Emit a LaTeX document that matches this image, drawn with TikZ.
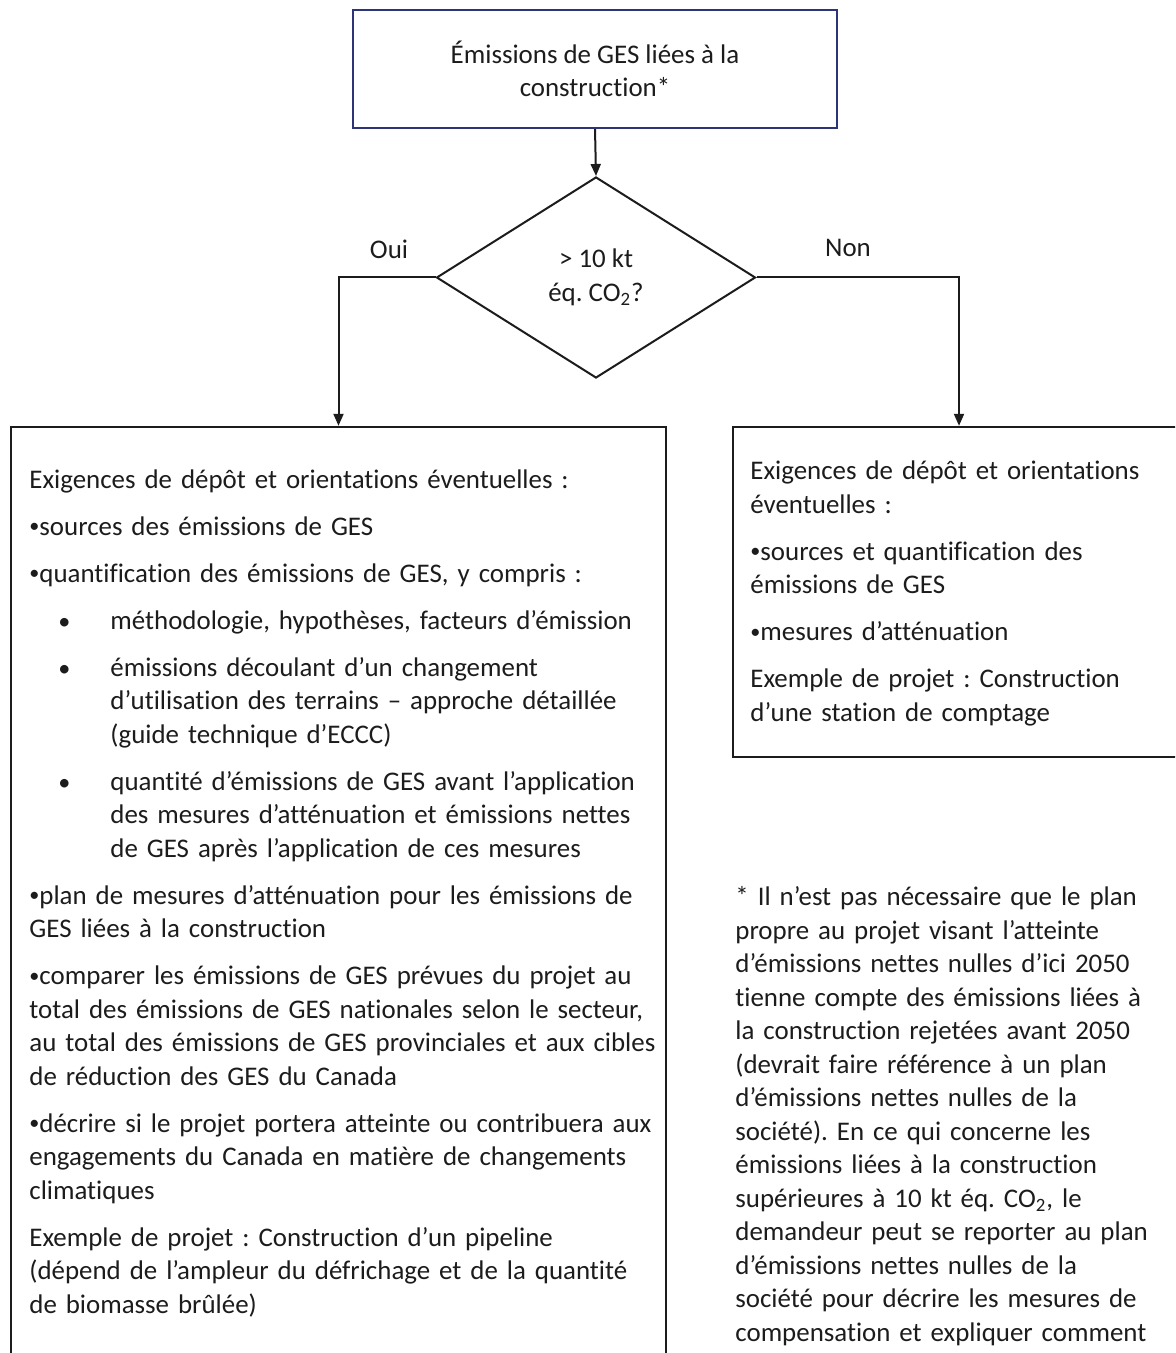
\documentclass[tikz,border=0pt]{standalone}
\usepackage{fontspec}
\setmainfont{Carlito}[Ligatures=NoCommon]
\usetikzlibrary{shapes.geometric,arrows.meta}
\definecolor{navy}{RGB}{45,52,120}
\definecolor{ink}{RGB}{28,28,28}
\newcommand\bul{\raisebox{0.1em}{\scalebox{0.75}{•}}}
\newcommand\sbul[1]{\hspace*{14.5pt}\makebox[26pt][l]{\scalebox{0.9}{•}}#1}
\newcommand\sind{\hspace*{40.5pt}}
\newcommand\fl{\rule{0pt}{12pt}}
\frenchspacing
\begin{document}
\begin{tikzpicture}[x=0.5pt,y=-0.5pt,
  font=\fontsize{13.45}{16.75}\selectfont\frenchspacing,
  box/.style={draw=ink,line width=1.2pt,inner sep=0pt,rectangle},
  txt/.style={inner sep=0pt,anchor=north west,align=left,text=ink},
  lbl/.style={inner sep=0pt,text=ink},
  conn/.style={draw=ink,line width=1pt,-{Triangle[length=6pt,width=5pt]}}]
\useasboundingbox (0,0) rectangle (1175,1353);
\clip (0,0) rectangle (1175,1353);
\fill[white] (0,0) rectangle (1175,1353);

\node[box,draw=navy,minimum width=242pt,minimum height=59pt,align=center,text=ink] (top) at (595,69) {Émissions de GES liées à la\\construction*};

\node[diamond,draw=ink,line width=1pt,minimum width=159.5pt,minimum height=100.5pt,inner sep=0pt,shape aspect=1.6,align=center,text=ink] (dec) at (596,277.5) {> 10 kt\\éq. CO\textsubscript{2}?};

\node[box,minimum width=327.5pt,minimum height=500pt] (lbox) at (338.5,927) {};
\node[box,minimum width=226pt,minimum height=165pt] (rbox) at (959,592) {};

\draw[conn] (top.south) -- (dec.north);
\draw[conn] (dec.west) -| (lbox.north);
\draw[conn] (dec.east) -| (rbox.north);

\node[lbl] (oui) at (389,249) {Oui};
\node[lbl] (non) at (848,248) {Non};

\node[txt,text width=360pt] (ltext) at (29,464) {\fl Exigences de dépôt et orientations éventuelles :\\[6.75pt]
\bul sources des émissions de GES\\[6.75pt]
\bul quantification des émissions de GES, y compris :\\[6.75pt]
\sbul{méthodologie, hypothèses, facteurs d’émission}\\[6.75pt]
\sbul{émissions découlant d’un changement}\\
\sind d’utilisation des terrains – approche détaillée\\
\sind (guide technique d’ECCC)\\[6.75pt]
\sbul{quantité d’émissions de GES avant l’application}\\
\sind des mesures d’atténuation et émissions nettes\\
\sind de GES après l’application de ces mesures\\[6.75pt]
\bul plan de mesures d’atténuation pour les émissions de\\
GES liées à la construction\\[6.75pt]
\bul comparer les émissions de GES prévues du projet au\\
total des émissions de GES nationales selon le secteur,\\
au total des émissions de GES provinciales et aux cibles\\
de réduction des GES du Canada\\[6.75pt]
\bul décrire si le projet portera atteinte ou contribuera aux\\
engagements du Canada en matière de changements\\
climatiques\\[6.75pt]
Exemple de projet : Construction d’un pipeline\\
(dépend de l’ampleur du défrichage et de la quantité\\
de biomasse brûlée)};

\node[txt,text width=240pt] (rtext) at (750,455.5) {\fl Exigences de dépôt et orientations\\
éventuelles :\\[6.75pt]
\bul sources et quantification des\\
émissions de GES\\[6.75pt]
\bul mesures d’atténuation\\[6.75pt]
Exemple de projet : Construction\\
d’une station de comptage};

\node[txt,text width=240pt] (note) at (735,881.5) {\fl * Il n’est pas nécessaire que le plan\\
propre au projet visant l’atteinte\\
d’émissions nettes nulles d’ici 2050\\
tienne compte des émissions liées à\\
la construction rejetées avant 2050\\
(devrait faire référence à un plan\\
d’émissions nettes nulles de la\\
société). En ce qui concerne les\\
émissions liées à la construction\\
supérieures à 10 kt éq. CO\textsubscript{2}, le\\
demandeur peut se reporter au plan\\
d’émissions nettes nulles de la\\
société pour décrire les mesures de\\
compensation et expliquer comment};
\end{tikzpicture}
\end{document}
